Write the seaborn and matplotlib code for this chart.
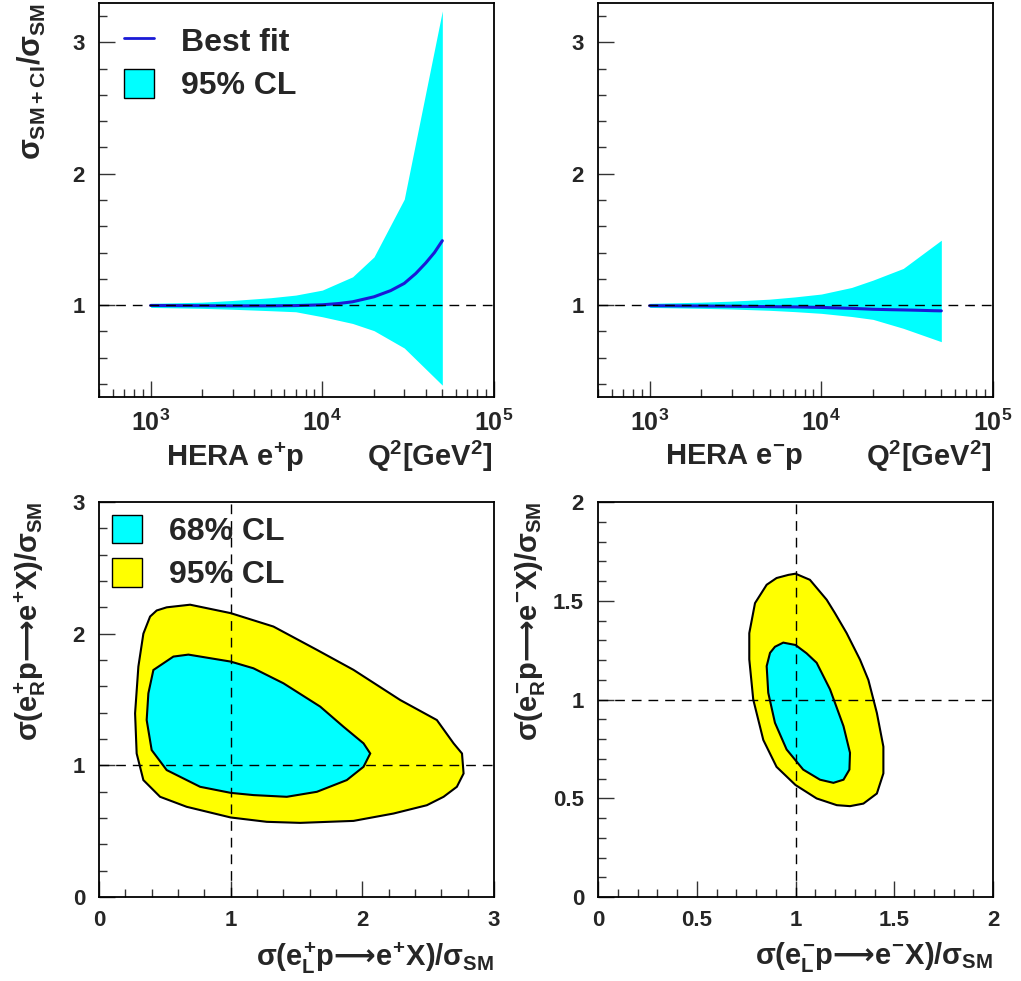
import numpy as np
import pandas as pd
import matplotlib
matplotlib.use("Agg")
import matplotlib.pyplot as plt
import seaborn as sns
from matplotlib.patches import Patch
from matplotlib.lines import Line2D
from matplotlib.ticker import MultipleLocator, LogLocator, NullFormatter, FixedLocator

# ---- data ----
Q2 = [1000, 2000, 3000, 5000, 7000, 10000, 15000, 20000, 30000, 50000]

EP_POS_HI = [1.013, 1.022, 1.035, 1.056, 1.076, 1.114, 1.215, 1.367, 1.806, 3.24]
EP_POS_LO = [0.982, 0.975, 0.968, 0.957, 0.949, 0.911, 0.86, 0.805, 0.673, 0.39]
EP_NEG_HI = [1.013, 1.022, 1.03, 1.045, 1.062, 1.084, 1.134, 1.19, 1.279, 1.494]
EP_NEG_LO = [0.982, 0.975, 0.97, 0.96, 0.95, 0.937, 0.913, 0.891, 0.823, 0.721]

Q2_FIT = [1000, 2000, 3000, 5000, 7000, 10000, 12500, 15000, 20000, 25000,
          30000, 35000, 40000, 45000, 50000]
FIT_POS = [0.997, 0.995, 0.994, 0.994, 0.996, 1.002, 1.012, 1.025, 1.063, 1.11,
           1.165, 1.24, 1.32, 1.40, 1.49]
FIT_NEG = [0.995, 0.993, 0.991, 0.988, 0.986, 0.982, 0.978, 0.975, 0.968, 0.965,
           0.963, 0.961, 0.959, 0.957, 0.956]

# e+ p contours (x = sigma_L / SM, y = sigma_R / SM)
POS95_X = [0.438, 0.514, 0.692, 1.0, 1.325, 1.655, 1.933, 2.288, 2.566, 2.693,
           2.757, 2.769, 2.718, 2.617, 2.49, 2.237, 1.933, 1.528, 1.274, 1.0,
           0.666, 0.464, 0.337, 0.286, 0.274, 0.299, 0.337, 0.388]
POS95_Y = [2.176, 2.20, 2.22, 2.156, 2.054, 1.877, 1.725, 1.496, 1.344, 1.167,
           1.09, 0.938, 0.837, 0.761, 0.697, 0.634, 0.578, 0.563, 0.571, 0.604,
           0.685, 0.761, 0.888, 1.09, 1.395, 1.75, 2.0, 2.13]
POS68_X = [0.413, 0.565, 0.679, 1.0, 1.173, 1.401, 1.68, 1.857, 2.009, 2.06,
           2.009, 1.882, 1.655, 1.426, 1.173, 1.0, 0.768, 0.514, 0.40, 0.362, 0.375]
POS68_Y = [1.724, 1.826, 1.841, 1.788, 1.737, 1.623, 1.446, 1.293, 1.167, 1.09,
           0.989, 0.888, 0.799, 0.761, 0.774, 0.791, 0.837, 0.964, 1.116, 1.344, 1.547]

# e- p contours
NEG95_X = [0.964, 1.0, 1.073, 1.158, 1.20, 1.259, 1.327, 1.369, 1.412, 1.445,
           1.445, 1.412, 1.344, 1.276, 1.209, 1.107, 1.0, 0.904, 0.837, 0.786,
           0.766, 0.766, 0.795, 0.854, 0.904]
NEG95_Y = [1.631, 1.637, 1.606, 1.505, 1.437, 1.336, 1.201, 1.099, 0.932, 0.761,
           0.626, 0.524, 0.473, 0.46, 0.465, 0.499, 0.567, 0.659, 0.795, 1.0,
           1.203, 1.336, 1.488, 1.581, 1.615]
NEG68_X = [0.938, 1.0, 1.056, 1.107, 1.175, 1.243, 1.276, 1.273, 1.243, 1.192,
           1.124, 1.039, 0.955, 0.896, 0.862, 0.854, 0.871, 0.896]
NEG68_Y = [1.288, 1.276, 1.234, 1.186, 1.051, 0.865, 0.73, 0.645, 0.594, 0.578,
           0.594, 0.645, 0.747, 0.882, 1.034, 1.169, 1.236, 1.267]

CYAN = "#00ffff"
YELLOW = "#ffff00"
BLUE = "#1a1ad6"

sns.set_theme(style="ticks")
plt.rcParams["font.family"] = ["Liberation Sans", "DejaVu Sans"]
plt.rcParams["font.weight"] = "bold"
plt.rcParams["mathtext.fontset"] = "custom"
plt.rcParams["mathtext.rm"] = "Liberation Sans:bold"
plt.rcParams["mathtext.it"] = "Liberation Sans:bold"
plt.rcParams["mathtext.bf"] = "Liberation Sans:bold"
plt.rcParams["mathtext.sf"] = "DejaVu Sans"

fig = plt.figure(figsize=(10.21, 9.81), dpi=100)
W, H = 1021, 981


def box(l, t, r, b):
    return [l / W, 1 - b / H, (r - l) / W, (b - t) / H]


ax_tl = fig.add_axes(box(99, 3, 494, 397))
ax_tr = fig.add_axes(box(598, 3, 993, 397))
ax_bl = fig.add_axes(box(99, 502, 494, 897))
ax_br = fig.add_axes(box(598, 502, 993, 897))


def style(ax):
    for s in ax.spines.values():
        s.set_linewidth(1.3)
        s.set_color("black")
    ax.tick_params(which="both", direction="in", top=False, right=False,
                   width=1.0, color="#333333", labelsize=16)
    ax.tick_params(which="major", length=11.5)
    ax.tick_params(which="minor", length=6)
    for lab in ax.get_xticklabels() + ax.get_yticklabels():
        lab.set_fontweight("bold")


def q2_panel(ax, hi, lo, fit, beam):
    ax.set_xscale("log")
    ax.fill_between(Q2, lo, hi, color=CYAN, lw=0)
    df = pd.DataFrame({"q2": Q2_FIT, "r": fit})
    sns.lineplot(data=df, x="q2", y="r", ax=ax, color=BLUE, lw=2.2)
    ax.axhline(1.0, color="black", lw=1.0, ls=(0, (7, 5)))
    ax.set_xlim(500, 1e5)
    ax.set_ylim(0.3, 3.3)
    ax.xaxis.set_major_locator(FixedLocator([1e3, 1e4, 1e5]))
    ax.xaxis.set_minor_locator(LogLocator(base=10, subs=np.arange(2, 10)))
    ax.xaxis.set_minor_formatter(NullFormatter())
    ax.set_xticks([1e3, 1e4, 1e5])
    ax.set_xticklabels([r"$10^{3}$", r"$10^{4}$", r"$10^{5}$"])
    ax.yaxis.set_major_locator(FixedLocator([1, 2, 3]))
    ax.yaxis.set_minor_locator(MultipleLocator(0.2))
    ax.set_yticklabels(["1", "2", "3"])
    ax.set_xlabel("")
    ax.set_ylabel("")
    style(ax)
    ax.tick_params(axis="x", which="major", pad=9, labelsize=18)
    ax.tick_params(axis="y", which="major", pad=10)
    ax.text(0.345, -0.152, r"HERA e$^{%s}$p" % beam, transform=ax.transAxes,
            ha="center", va="center", fontsize=21, fontweight="bold")
    ax.text(0.995, -0.152, r"Q$^{2}$[GeV$^{2}$]", transform=ax.transAxes,
            ha="right", va="center", fontsize=21, fontweight="bold")


q2_panel(ax_tl, EP_POS_HI, EP_POS_LO, FIT_POS, "+")
q2_panel(ax_tr, EP_NEG_HI, EP_NEG_LO, FIT_NEG, "-")

ax_tl.set_ylabel(r"$\sigma_{SM+CI}/\sigma_{SM}$", fontsize=22, loc="top")
ax_tl.yaxis.set_label_coords(-0.13, 1.0)

leg_kw = dict(loc="upper left", frameon=False, prop={"size": 23, "weight": "bold"},
              handlelength=0.95, handleheight=1.0, handletextpad=0.85,
              labelspacing=0.35, borderaxespad=0.0)
ax_tl.legend(
    handles=[Line2D([], [], color=BLUE, lw=2),
             Patch(facecolor=CYAN, edgecolor="black", lw=1)],
    labels=["Best fit", "95% CL"], bbox_to_anchor=(0.03, 0.975), **leg_kw)


def contour_panel(ax, x95, y95, x68, y68, lim, major, minor, lbl_y, lbl_x):
    ax.fill(x95, y95, facecolor=YELLOW, edgecolor="black", lw=1.5)
    ax.fill(x68, y68, facecolor=CYAN, edgecolor="black", lw=1.5)
    ax.axhline(1.0, color="black", lw=1.0, ls=(0, (7, 5)))
    ax.axvline(1.0, color="black", lw=1.0, ls=(0, (7, 5)))
    ax.set_xlim(0, lim)
    ax.set_ylim(0, lim)
    for a in (ax.xaxis, ax.yaxis):
        a.set_major_locator(MultipleLocator(major))
        a.set_minor_locator(MultipleLocator(minor))
    style(ax)
    ax.tick_params(axis="x", which="major", pad=9)
    ax.tick_params(axis="y", which="major", pad=10)
    fmt = (lambda v: "%g" % v)
    ax.set_xticklabels([fmt(v) for v in ax.get_xticks()])
    ax.set_yticklabels([fmt(v) for v in ax.get_yticks()])
    ax.set_xlim(0, lim)
    ax.set_ylim(0, lim)
    ax.set_xlabel(lbl_x, fontsize=21, loc="right")
    ax.xaxis.set_label_coords(1.0, -0.11)
    ax.set_ylabel(lbl_y, fontsize=21, loc="top")
    ax.yaxis.set_label_coords(-0.13, 1.0)


arrow = "\\mathsf{\u27f6}"
contour_panel(ax_bl, POS95_X, POS95_Y, POS68_X, POS68_Y, 3, 1, 0.2,
              r"$\sigma(e^{+}_{R}p%se^{+}X)/\sigma_{SM}$" % arrow,
              r"$\sigma(e^{+}_{L}p%se^{+}X)/\sigma_{SM}$" % arrow)
contour_panel(ax_br, NEG95_X, NEG95_Y, NEG68_X, NEG68_Y, 2, 0.5, 0.1,
              r"$\sigma(e^{-}_{R}p%se^{-}X)/\sigma_{SM}$" % arrow,
              r"$\sigma(e^{-}_{L}p%se^{-}X)/\sigma_{SM}$" % arrow)

ax_bl.legend(
    handles=[Patch(facecolor=CYAN, edgecolor="black", lw=1),
             Patch(facecolor=YELLOW, edgecolor="black", lw=1)],
    labels=["68% CL", "95% CL"], bbox_to_anchor=(0.0, 1.0), **leg_kw)

fig.savefig("out.png", dpi=100)
